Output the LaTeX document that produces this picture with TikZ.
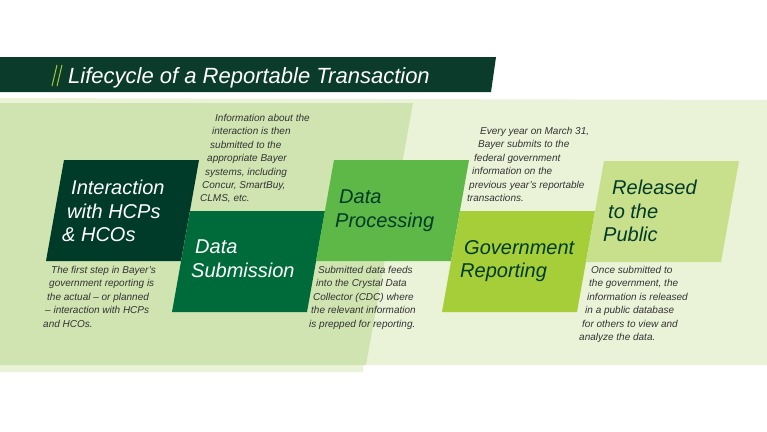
\documentclass[tikz,border=0pt]{standalone}
\usepackage{fontspec}
\setmainfont{Liberation Sans}
\definecolor{bgpale}{HTML}{EAF3D8}
\definecolor{bgleaf}{HTML}{CFE4B0}
\definecolor{titlegreen}{HTML}{0B3B2A}
\definecolor{slashgreen}{HTML}{A5C93A}
\definecolor{stepA}{HTML}{003A28}
\definecolor{stepB}{HTML}{006B3A}
\definecolor{stepC}{HTML}{5DB847}
\definecolor{stepD}{HTML}{A6CE39}
\definecolor{stepE}{HTML}{C8DF8C}
\definecolor{desctext}{HTML}{333333}
\tikzset{
  steplabel/.style={anchor=north west,align=left,inner sep=0pt,
    font=\fontsize{20}{23.5}\selectfont\itshape},
  desc/.style={anchor=north west,align=left,inner sep=0pt,text=desctext,
    font=\fontsize{10}{13.4}\selectfont\itshape}
}
% parallelogram step: name, top-left x, top y, fill
\newcommand{\stepbox}[4]{%
  \fill[#4] (#2,#3) -- ++(135,0) -- ++(-18,101) -- ++(-135,0) -- cycle;
  \coordinate (#1) at (#2,#3);}
\begin{document}
\begin{tikzpicture}[x=1pt,y=-1pt]
  \useasboundingbox (0,0) rectangle (767,431);
  % background bands
  \fill[bgpale] (0,98) -- (767,100) -- (767,365) -- (363,365) -- (363,372) -- (0,372) -- cycle;
  \fill[bgleaf] (0,103) -- (413,103) -- (366,365) -- (0,365) -- cycle;
  % title bar
  \fill[titlegreen] (0,57) -- (496,57) -- (491,92) -- (0,92) -- cycle;
  \draw[slashgreen,line width=1pt] (57,65) -- (52,86) (62,65) -- (57,86);
  \node[anchor=base west,inner sep=0pt,text=white,
    font=\fontsize{22}{24}\selectfont\itshape] (title) at (68,83)
    {Lifecycle of a Reportable Transaction};
  % steps
  \stepbox{interact}{64}{160}{stepA}
  \stepbox{submit}{190}{211}{stepB}
  \stepbox{process}{334}{160}{stepC}
  \stepbox{report}{460}{211}{stepD}
  \stepbox{release}{604}{161}{stepE}
  \node[steplabel,text=white] (interactlbl) at (71,180)
    {Interaction\\\hspace*{-4pt}with HCPs\\\hspace*{-9pt}\& HCOs};
  \node[steplabel,text=white] (submitlbl) at (195,240)
    {Data\\\hspace*{-4pt}Submission};
  \node[steplabel,text=stepA] (processlbl) at (339,190)
    {Data\\\hspace*{-4pt}Processing};
  \node[steplabel,text=stepA] (reportlbl) at (464,240)
    {Government\\\hspace*{-4pt}Reporting};
  \node[steplabel,text=stepA] (releaselbl) at (612,180)
    {Released\\\hspace*{-4pt}to the\\\hspace*{-9pt}Public};
  % descriptions
  \node[desc] (interactdesc) at (51,266)
    {The first step in Bayer's\\\hspace*{-2pt}government reporting is\\\hspace*{-4pt}the actual -- or planned\\\hspace*{-6pt}-- interaction with HCPs\\\hspace*{-8pt}and HCOs.};
  \node[desc] (submitdesc) at (215,114)
    {Information about the\\\hspace*{-3pt}interaction is then\\\hspace*{-5pt}submitted to the\\\hspace*{-8pt}appropriate Bayer\\\hspace*{-10pt}systems, including\\\hspace*{-13pt}Concur, SmartBuy,\\\hspace*{-15pt}CLMS, etc.};
  \node[desc] (processdesc) at (318,266)
    {Submitted data feeds\\\hspace*{-2pt}into the Crystal Data\\\hspace*{-5pt}Collector (CDC) where\\\hspace*{-7pt}the relevant information\\\hspace*{-9pt}is prepped for reporting.};
  \node[desc] (reportdesc) at (480,127)
    {Every year on March 31,\\\hspace*{-2pt}Bayer submits to the\\\hspace*{-6pt}federal government\\\hspace*{-8pt}information on the\\\hspace*{-11pt}previous year's reportable\\\hspace*{-13pt}transactions.};
  \node[desc] (releasedesc) at (591,266)
    {Once submitted to\\\hspace*{-2pt}the government, the\\\hspace*{-4pt}information is released\\\hspace*{-6pt}in a public database\\\hspace*{-9pt}for others to view and\\\hspace*{-12pt}analyze the data.};
\end{tikzpicture}
\end{document}
